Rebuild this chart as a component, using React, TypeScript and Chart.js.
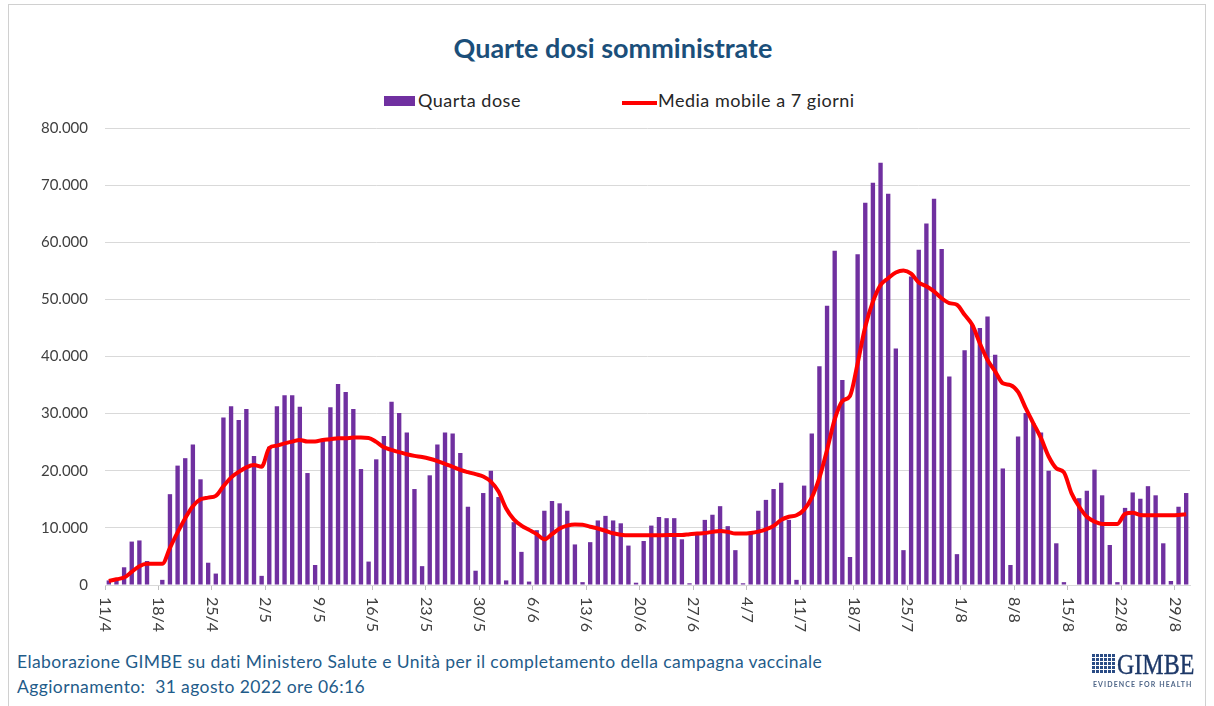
import React, { useEffect, useRef } from 'react';
import { Chart, registerables } from 'chart.js';

Chart.register(...registerables);

// Categories: one per day, 11 April – 30 August 2022
const dayLabels: string[] = [
  '11/4', '12/4', '13/4', '14/4', '15/4', '16/4', '17/4', '18/4', '19/4', '20/4',
  '21/4', '22/4', '23/4', '24/4', '25/4', '26/4', '27/4', '28/4', '29/4', '30/4',
  '1/5', '2/5', '3/5', '4/5', '5/5', '6/5', '7/5', '8/5', '9/5', '10/5',
  '11/5', '12/5', '13/5', '14/5', '15/5', '16/5', '17/5', '18/5', '19/5', '20/5',
  '21/5', '22/5', '23/5', '24/5', '25/5', '26/5', '27/5', '28/5', '29/5', '30/5', '31/5',
  '1/6', '2/6', '3/6', '4/6', '5/6', '6/6', '7/6', '8/6', '9/6', '10/6',
  '11/6', '12/6', '13/6', '14/6', '15/6', '16/6', '17/6', '18/6', '19/6', '20/6',
  '21/6', '22/6', '23/6', '24/6', '25/6', '26/6', '27/6', '28/6', '29/6', '30/6',
  '1/7', '2/7', '3/7', '4/7', '5/7', '6/7', '7/7', '8/7', '9/7', '10/7',
  '11/7', '12/7', '13/7', '14/7', '15/7', '16/7', '17/7', '18/7', '19/7', '20/7',
  '21/7', '22/7', '23/7', '24/7', '25/7', '26/7', '27/7', '28/7', '29/7', '30/7', '31/7',
  '1/8', '2/8', '3/8', '4/8', '5/8', '6/8', '7/8', '8/8', '9/8', '10/8',
  '11/8', '12/8', '13/8', '14/8', '15/8', '16/8', '17/8', '18/8', '19/8', '20/8',
  '21/8', '22/8', '23/8', '24/8', '25/8', '26/8', '27/8', '28/8', '29/8', '30/8',
];

// Daily fourth doses (bars)
const quartaDose: number[] = [
  800, 1100, 3100, 7600, 7800, 4200, 0,
  900, 15900, 20900, 22200, 24600, 18500, 3900,
  2000, 29300, 31300, 28900, 30800, 22600, 1600,
  24200, 31300, 33200, 33200, 31200, 19600, 3500,
  25400, 31100, 35200, 33800, 30800, 20300, 4100,
  22000, 26100, 32100, 30100, 26700, 16800, 3300,
  19200, 24600, 26700, 26500, 23100, 13700, 2500,
  16100, 20000, 15400, 800, 11000, 5800, 600,
  9600, 13000, 14700, 14300, 13000, 7100, 500,
  7500, 11300, 12100, 11300, 10800, 6900, 400,
  7700, 10400, 11900, 11700, 11700, 8000, 300,
  8800, 11400, 12300, 13800, 10300, 6100, 300,
  9300, 13000, 14900, 16800, 17900, 11400, 900,
  17400, 26500, 38300, 48900, 58500, 35900, 4900,
  57900, 66900, 70400, 73900, 68500, 41400, 6100,
  54000, 58700, 63300, 67600, 58800, 36500, 5400,
  41100, 45500, 45000, 47000, 40300, 20400, 3500,
  26000, 30100, 28300, 26700, 20000, 7300, 500,
  0, 15200, 16500, 20200, 15700, 7000, 500,
  13500, 16200, 15100, 17300, 15700, 7300, 700,
  13700, 16100,
];

// 7-day moving average (line)
const mediaMobile: number[] = [
  700, 1000, 1300, 2300, 3300, 3700, 3700,
  3700, 6500, 9200, 11700, 13800, 15000, 15300,
  15600, 17300, 18800, 19800, 20600, 21000, 20700,
  24000, 24400, 24800, 25100, 25400, 25100, 25100,
  25400, 25500, 25700, 25700, 25800, 25800, 25750,
  25050, 24100, 23650, 23250, 22900, 22600, 22400,
  22100, 21700, 21200, 20700, 20150, 19750, 19400,
  19000, 18100, 16350, 13400, 11500, 10400, 9650,
  8900, 8000, 8900, 9900, 10400, 10600, 10550,
  10200, 9900, 9500, 9050, 8800, 8700, 8700,
  8700, 8700, 8700, 8750, 8750, 8750, 8900,
  9000, 9100, 9300, 9450, 9300, 9000, 9000,
  9100, 9350, 9750, 10350, 11400, 11950, 12200,
  13200, 15300, 18800, 23650, 29000, 32200, 33100,
  38800, 45200, 49600, 52500, 53700, 54700, 55050,
  54500, 52950, 52300, 51400, 50200, 49350, 49050,
  47300, 45550, 42300, 39400, 37400, 35300, 35000,
  33800, 30950, 28300, 25700, 22500, 20450, 19700,
  16050, 13700, 11950, 11100, 10700, 10700, 10700,
  12450, 12650, 12250, 12200, 12200, 12200, 12200,
  12250, 12400,
];

const yMin = 0;
const yMax = 80000;
const yStep = 10000;
const labelEvery = 7;

const seriesNames = ['Quarta dose', 'Media mobile a 7 giorni'];
const titleText = 'Quarte dosi somministrate';
const footerLines = [
  'Elaborazione GIMBE su dati Ministero Salute e Unità per il completamento della campagna vaccinale',
  'Aggiornamento:  31 agosto 2022 ore 06:16',
];

const BAR_COLOR = '#7030A0';
const LINE_COLOR = '#FF0000';
const TEXT_COLOR = '#404040';
const GRID_COLOR = '#d9d9d9';

const CANVAS_TOP = 102;
const CANVAS_H = 548;

const fmtIt = (v: number) => (v === 0 ? '0' : String(v).replace(/\B(?=(\d{3})+(?!\d))/g, '.'));

const xLabelPlugin = {
  id: 'xRotatedLabels',
  afterDraw(chart: any) {
    const xs = chart.scales.x;
    const ctx = chart.ctx;
    const step = xs.getPixelForValue(1) - xs.getPixelForValue(0);
    ctx.save();
    ctx.font = '16px Lato';
    ctx.fillStyle = TEXT_COLOR;
    ctx.textAlign = 'left';
    ctx.textBaseline = 'middle';
    dayLabels.forEach((lab, i) => {
      if (i % labelEvery !== 0) return;
      const x = xs.getPixelForValue(i) - step / 2;
      ctx.save();
      ctx.translate(x, xs.top + 12);
      ctx.rotate(Math.PI / 2);
      ctx.fillText(lab, 0, 0);
      ctx.restore();
    });
    ctx.restore();
  },
};

function ChartCanvas() {
  const ref = useRef<HTMLCanvasElement | null>(null);
  useEffect(() => {
    if (!ref.current) return;
    const chart = new Chart(ref.current, {
      data: {
        labels: dayLabels,
        datasets: [
          {
            type: 'line',
            label: seriesNames[1],
            data: mediaMobile,
            borderColor: LINE_COLOR,
            backgroundColor: LINE_COLOR,
            borderWidth: 4,
            pointRadius: 0,
            cubicInterpolationMode: 'monotone',
            order: 0,
          } as any,
          {
            type: 'bar',
            label: seriesNames[0],
            data: quartaDose,
            backgroundColor: BAR_COLOR,
            categoryPercentage: 1,
            barPercentage: 0.57,
            order: 1,
          } as any,
        ],
      },
      options: {
        responsive: false,
        animation: false,
        layout: { padding: { top: 10, right: 24, left: 0, bottom: 0 } },
        plugins: {
          legend: { display: false },
          title: { display: false },
          tooltip: { enabled: false },
        },
        scales: {
          x: {
            type: 'category',
            offset: true,
            grid: {
              display: true,
              drawOnChartArea: false,
              drawTicks: true,
              tickLength: 5,
              offset: true,
              color: (c: any) => (c.index % labelEvery === 0 ? '#bfbfbf' : 'rgba(0,0,0,0)'),
            },
            border: { display: true, color: GRID_COLOR, width: 1 },
            ticks: { display: false, autoSkip: false },
            afterFit: (s: any) => {
              s.height = 65;
            },
          },
          y: {
            min: yMin,
            max: yMax,
            grid: { color: GRID_COLOR, drawTicks: false, lineWidth: 1 },
            border: { display: false },
            ticks: {
              stepSize: yStep,
              padding: 17,
              color: TEXT_COLOR,
              font: { family: 'Lato', size: 15 },
              callback: (v: any) => fmtIt(Number(v)),
            },
            afterFit: (s: any) => {
              s.width = 105;
            },
          },
        },
      },
      plugins: [xLabelPlugin],
    } as any);
    return () => chart.destroy();
  }, []);
  return <canvas ref={ref} width={1214} height={CANVAS_H} style={{ display: 'block' }} />;
}

export default function App() {
  const abs = (s: React.CSSProperties): React.CSSProperties => ({ position: 'absolute', ...s });
  return (
    <div style={abs({ left: 0, top: 0, width: 1214, height: 706, background: '#fff', overflow: 'hidden', fontFamily: 'Lato, sans-serif' })}>
      <div style={abs({ left: 8, top: 4, width: 1198, height: 720, border: '1px solid #d0d0d0', boxSizing: 'border-box' })} />
      <div style={abs({ left: 0, top: 34, width: 1226, textAlign: 'center', fontSize: 27, lineHeight: '27px', fontWeight: 700, color: '#1B4F7A' })}>
        {titleText}
      </div>
      {/* legend */}
      <div style={abs({ left: 384, top: 96, width: 31, height: 10, background: BAR_COLOR })} />
      <div style={abs({ left: 418, top: 91, fontSize: 18, lineHeight: '18px', letterSpacing: 0.5, color: '#262626', whiteSpace: 'nowrap' })}>
        {seriesNames[0]}
      </div>
      <div style={abs({ left: 622, top: 101, width: 35, height: 4, background: LINE_COLOR })} />
      <div style={abs({ left: 658, top: 91, fontSize: 18, lineHeight: '18px', letterSpacing: 0.5, color: '#262626', whiteSpace: 'nowrap' })}>
        {seriesNames[1]}
      </div>
      <div style={abs({ left: 0, top: CANVAS_TOP, width: 1214, height: CANVAS_H })}>
        <ChartCanvas />
      </div>
      {/* footer */}
      <div style={abs({ left: 17, top: 653, fontSize: 17.5, lineHeight: '17.5px', letterSpacing: 0.4, color: '#1F5C8A', whiteSpace: 'pre' })}>
        {footerLines[0]}
      </div>
      <div style={abs({ left: 17, top: 678, fontSize: 17.5, lineHeight: '17.5px', letterSpacing: 0.4, color: '#1F5C8A', whiteSpace: 'pre' })}>
        {footerLines[1]}
      </div>
      {/* logo */}
      <div
        style={abs({
          left: 1092,
          top: 654,
          width: 23,
          height: 19,
          backgroundImage:
            'repeating-linear-gradient(0deg, transparent 0 3px, #fff 3px 4px), repeating-linear-gradient(90deg, #2a4c85 0 3px, #fff 3px 4px)',
        })}
      />
      <div
        style={abs({
          left: 1117,
          top: 649,
          fontFamily: '"Liberation Serif", serif',
          fontSize: 30,
          lineHeight: '30px',
          color: '#1d3868',
          transform: 'scaleX(0.8)',
          transformOrigin: 'left top',
          whiteSpace: 'nowrap',
          WebkitTextStroke: '0.4px #1d3868',
        })}
      >
        GIMBE
      </div>
      <div style={abs({ left: 1093, top: 681, fontSize: 7, lineHeight: '7px', letterSpacing: 1.1, fontWeight: 700, color: '#4f6688', whiteSpace: 'nowrap' })}>
        EVIDENCE FOR HEALTH
      </div>
    </div>
  );
}
